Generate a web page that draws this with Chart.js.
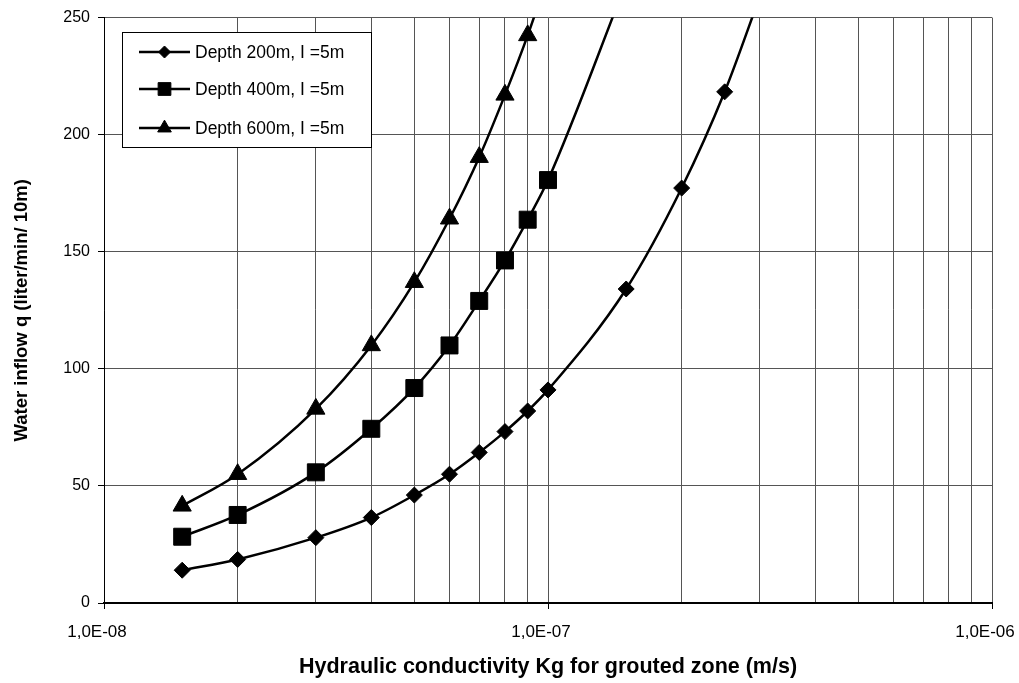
<!DOCTYPE html>
<html>
<head>
<meta charset="utf-8">
<title>Water inflow vs hydraulic conductivity</title>
<script src="https://cdn.jsdelivr.net/npm/chart.js"></script>
<style>
  html, body { margin: 0; padding: 0; background: #fff; }
  #wrap { width: 1019px; height: 683px; }
</style>
</head>
<body>
<div id="wrap"><canvas id="inflow-chart"></canvas></div>
<script>
// hydraulic conductivity of the grouted zone (m/s) and inflow per 10 m (l/min)
let kg200 = [1.5e-8, 2e-8, 3e-8, 4e-8, 5e-8, 6e-8, 7e-8, 8e-8, 9e-8, 1e-7, 1.5e-7, 2e-7, 2.5e-7, 3e-7];
let q200  = [14, 18.6, 27.9, 36.5, 46.1, 55, 64.3, 73.2, 82, 91, 134.1, 177.2, 218.3, 259];

let kg400 = [1.5e-8, 2e-8, 3e-8, 4e-8, 5e-8, 6e-8, 7e-8, 8e-8, 9e-8, 1e-7, 1.5e-7];
let q400  = [28.3, 37.6, 55.8, 74.4, 91.8, 110, 129, 146.3, 163.7, 180.6, 265];

let kg600 = [1.5e-8, 2e-8, 3e-8, 4e-8, 5e-8, 6e-8, 7e-8, 8e-8, 9e-8, 1e-7];
let q600  = [41.5, 55, 82.9, 110, 137, 164.1, 190.4, 217, 242.4, 268];

let seriesLabels = ['Depth 200m, I =5m', 'Depth 400m, I =5m', 'Depth 600m, I =5m'];

// log axis: decades and the multipliers drawn as grid lines inside each decade
let xDecades = [1e-8, 1e-7, 1e-6];
let xMultipliers = [1, 2, 3, 4, 5, 6, 7, 8, 9];
let yTicks = [0, 50, 100, 150, 200, 250];

let FONT = "'Liberation Sans', Arial, Helvetica, sans-serif";

let toPoints = function(xs, ys){
    return xs.map((x, i) => ({x: x, y: ys[i]}));
}

let isDecade = function(v){
    let l = Math.log10(v);
    return Math.abs(l - Math.round(l)) < 1e-6;
}

// "1,0E-08" style labels
let sciLabel = function(v){
    let e = Math.round(Math.log10(v));
    let sign = e < 0 ? '-' : '+';
    let abs = Math.abs(e);
    return '1,0E' + sign + (abs < 10 ? '0' + abs : abs);
}

let makeSet = function(label, data, style, radius){
    return {
        label: label,
        data: data,
        borderColor: '#000',
        backgroundColor: '#000',
        borderWidth: 2.5,
        pointStyle: style,
        pointRadius: radius,
        pointHoverRadius: radius,
        pointBorderWidth: 1,
        pointBorderColor: '#000',
        pointBackgroundColor: '#000',
        cubicInterpolationMode: 'monotone',
        fill: false
    };
}

// boxed legend inside the plot, top left
let boxLegend = {
    id: 'boxLegend',
    afterDraw(chart){
        let ctx = chart.ctx;
        let left = 122, top = 32, w = 249, h = 115;
        let rows = [52, 89, 128];
        ctx.save();
        ctx.fillStyle = '#fff';
        ctx.fillRect(left, top, w, h);
        ctx.strokeStyle = '#000';
        ctx.lineWidth = 1;
        ctx.strokeRect(left + 0.5, top + 0.5, w, h);
        chart.data.datasets.forEach((ds, i) => {
            let y = rows[i];
            ctx.strokeStyle = '#000';
            ctx.lineWidth = 2.5;
            ctx.beginPath();
            ctx.moveTo(139, y);
            ctx.lineTo(190, y);
            ctx.stroke();
            ctx.fillStyle = '#000';
            ctx.lineWidth = 1;
            Chart.helpers.drawPoint(ctx, {
                pointStyle: ds.pointStyle,
                radius: ds.pointRadius * 0.75,
                rotation: 0,
                borderWidth: 1
            }, 164.5, y);
            ctx.font = '17.5px ' + FONT;
            ctx.textAlign = 'left';
            ctx.textBaseline = 'middle';
            ctx.fillText(ds.label, 195, y + 1);
        });
        ctx.restore();
    }
};

const config = {
    type: 'line',
    data: {
        datasets: [
            makeSet(seriesLabels[0], toPoints(kg200, q200), 'rectRot', 8),
            makeSet(seriesLabels[1], toPoints(kg400, q400), 'rect', 12),
            makeSet(seriesLabels[2], toPoints(kg600, q600), 'triangle', 10.5)
        ]
    },
    options: {
        responsive: true,
        maintainAspectRatio: false,
        animation: false,
        layout: { padding: { left: 0, right: 27, top: 12, bottom: 0 } },
        plugins: {
            legend: { display: false },
            tooltip: { enabled: false }
        },
        scales: {
            x: {
                type: 'logarithmic',
                min: 1e-8,
                max: 1e-6,
                afterBuildTicks(scale){
                    let ticks = [];
                    xDecades.forEach((d, i) => {
                        if(i == xDecades.length - 1){
                            ticks.push({value: d});
                            return;
                        }
                        xMultipliers.forEach(m => ticks.push({value: d * m}));
                    });
                    scale.ticks = ticks;
                },
                afterFit(scale){
                    scale.height = 80;
                    scale.paddingLeft = 0;
                    scale.paddingRight = 0;
                },
                ticks: {
                    autoSkip: false,
                    maxRotation: 0,
                    padding: 13,
                    labelOffset: -7,
                    color: '#000',
                    font: { family: FONT, size: 17 },
                    callback: (v) => isDecade(v) ? sciLabel(v) : ''
                },
                grid: {
                    color: '#555',
                    lineWidth: 1,
                    tickLength: 6,
                    tickColor: (c) => (c.tick && isDecade(c.tick.value)) ? '#000' : 'rgba(0,0,0,0)'
                },
                border: { color: '#000', width: 2 },
                title: {
                    display: true,
                    text: 'Hydraulic conductivity Kg for grouted zone (m/s)',
                    color: '#000',
                    font: { family: FONT, size: 21.5, weight: 'bold' },
                    padding: { top: 3, bottom: 3 }
                }
            },
            y: {
                min: 0,
                max: 250,
                afterBuildTicks(scale){
                    scale.ticks = yTicks.map(v => ({value: v}));
                },
                afterFit(scale){
                    scale.width = 104;
                },
                ticks: {
                    padding: 8,
                    color: '#000',
                    font: { family: FONT, size: 16 }
                },
                grid: {
                    color: '#555',
                    lineWidth: 1,
                    tickLength: 6,
                    tickColor: '#000'
                },
                border: { color: '#000', width: 1 },
                title: {
                    display: true,
                    text: 'Water inflow q (liter/min/ 10m)',
                    color: '#000',
                    font: { family: FONT, size: 18.5, weight: 'bold' },
                    padding: { top: 11, bottom: 11 }
                }
            }
        }
    },
    plugins: [boxLegend]
};

let myChart = new Chart(document.querySelector('#inflow-chart'), config);
</script>
</body>
</html>
